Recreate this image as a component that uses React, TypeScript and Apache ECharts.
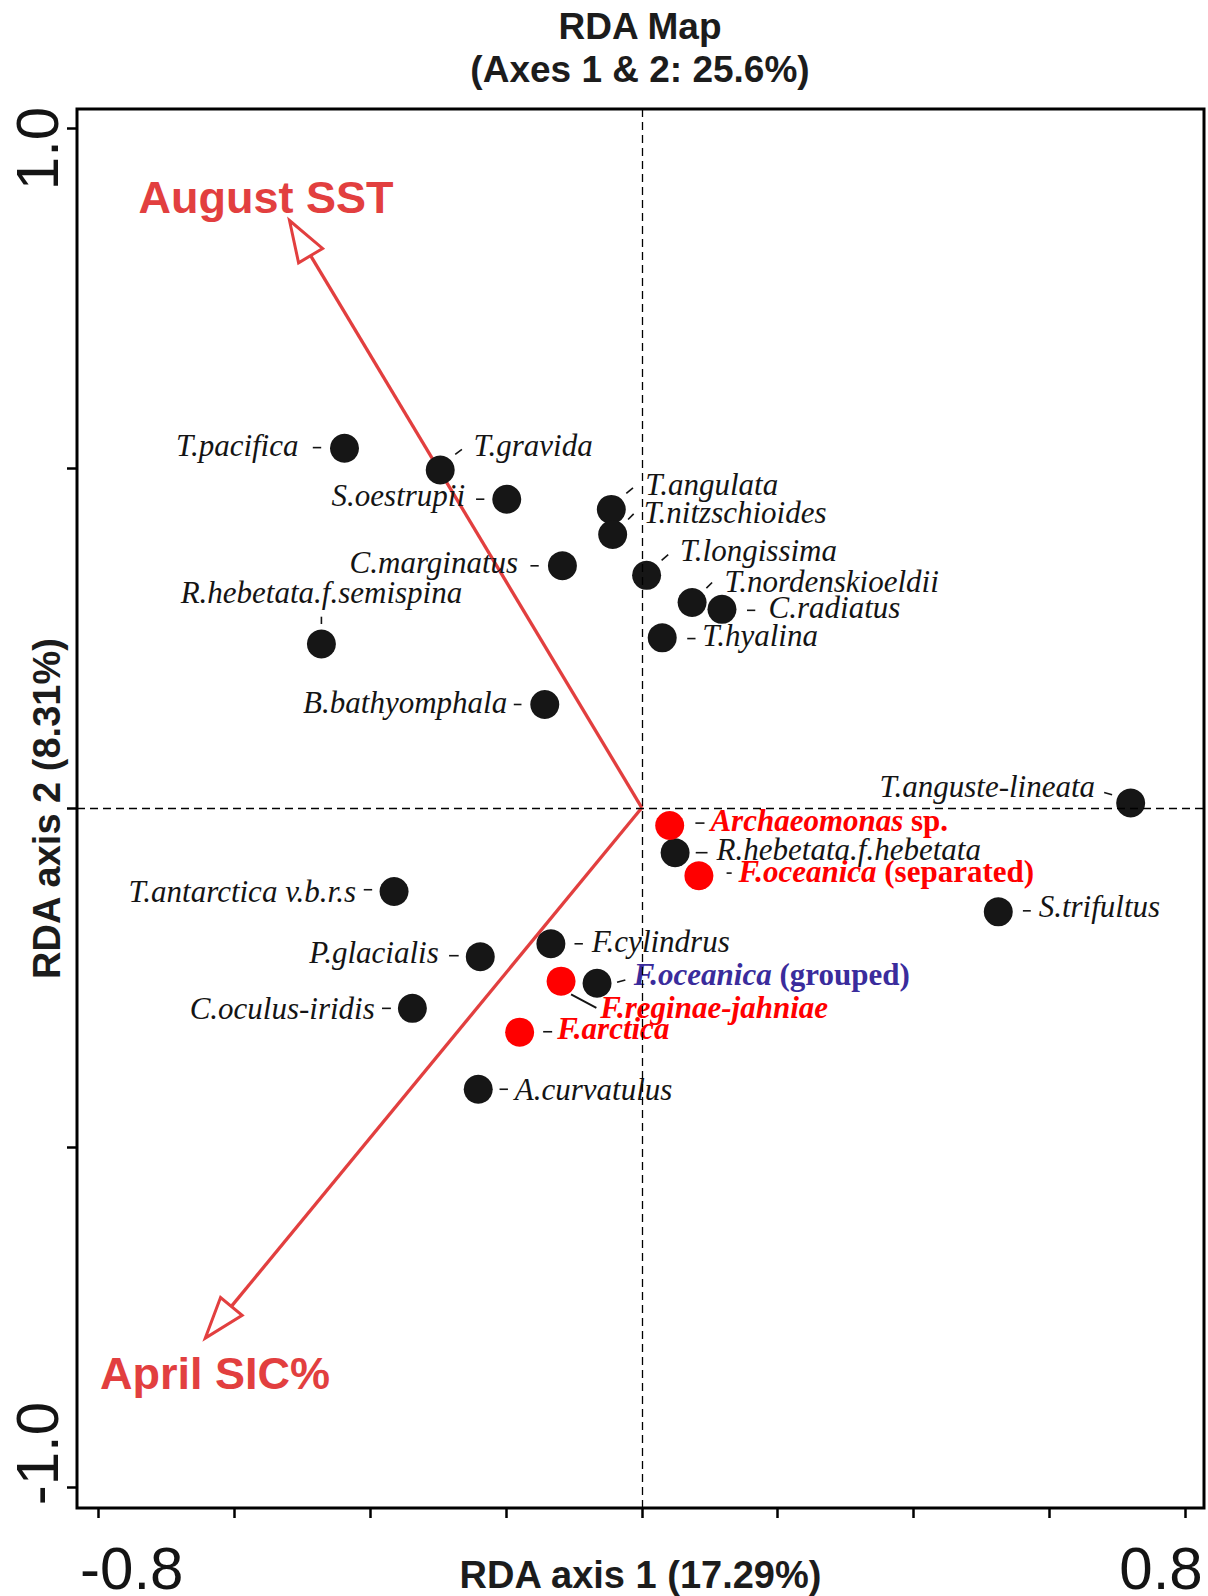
import React, { useEffect, useRef } from "react";
import * as echarts from "echarts";

// Diatom taxa scores on RDA axes 1 and 2
const taxa = [
  "T.pacifica", "T.gravida", "S.oestrupii", "T.angulata", "T.nitzschioides",
  "C.marginatus", "R.hebetata.f.semispina", "B.bathyomphala", "T.longissima",
  "T.nordenskioeldii", "C.radiatus", "T.hyalina", "T.anguste-lineata",
  "R.hebetata.f.hebetata", "S.trifultus", "T.antarctica v.b.r.s", "F.cylindrus",
  "P.glacialis", "C.oculus-iridis", "F.oceanica (grouped)", "A.curvatulus",
];
const taxaAxis1 = [
  -0.438, -0.297, -0.199, -0.045, -0.043, -0.117, -0.472, -0.143, 0.007,
  0.074, 0.118, 0.030, 0.720, 0.049, 0.525, -0.365, -0.134, -0.238, -0.338,
  -0.066, -0.241,
];
const taxaAxis2 = [
  0.529, 0.497, 0.454, 0.439, 0.402, 0.356, 0.241, 0.152, 0.342, 0.302,
  0.292, 0.250, 0.007, -0.066, -0.153, -0.123, -0.200, -0.219, -0.295,
  -0.258, -0.414,
];

// Highlighted taxa (red markers)
const focusTaxa = ["Archaeomonas sp.", "F.oceanica (separated)", "F.reginae-jahniae", "F.arctica"];
const focusAxis1 = [0.041, 0.084, -0.119, -0.180];
const focusAxis2 = [-0.026, -0.100, -0.255, -0.330];

// Environmental variables drawn as biplot arrows
const envVariables = ["August SST", "April SIC%"];
const envAxis1 = [-0.519, -0.643];
const envAxis2 = [0.864, -0.780];

// Axis ticks and labelled ticks
const xTickValues = [-0.8, -0.6, -0.4, -0.2, 0, 0.2, 0.4, 0.6, 0.8];
const xLabelValues = [-0.8, 0.8];
const yTickValues = [-1, -0.5, 0, 0.5, 1];
const yLabelValues = [-1, 1];

const TITLE = "RDA Map\n(Axes 1 & 2: 25.6%)";
const X_NAME = "RDA axis 1 (17.29%)";
const Y_NAME = "RDA axis 2 (8.31%)";

const SANS = "Liberation Sans";
const SERIF = "Liberation Serif";
const INK = "#141414";
const FOCUS_RED = "#ff0000";
const GROUPED_BLUE = "#3a2c9c";
const ARROW_RED = "#e23f3f";

const LABEL_SIZE = 31;
const SERIF_MID = 10.5; // baseline offset of a middle-aligned serif label

// Label placement relative to each marker, in pixels:
// dx = anchor x, dy = baseline y, leader = short connector segment
type Layout = {
  align: "left" | "right" | "center";
  dx: number;
  dy: number;
  leader: [number, number, number, number];
};
const labelLayout: Record<string, Layout> = {
  "T.pacifica": { align: "right", dx: -46, dy: 7.4, leader: [-31.7, -0.6, -23.3, -0.6] },
  "T.gravida": { align: "left", dx: 33.3, dy: -14.3, leader: [15, -15.7, 21.7, -20.7] },
  "S.oestrupii": { align: "right", dx: -41.7, dy: 7, leader: [-30.7, 0, -22.4, 0] },
  "T.angulata": { align: "left", dx: 34, dy: -14.3, leader: [15, -16, 21.7, -21.6] },
  "T.nitzschioides": { align: "left", dx: 31, dy: -11.7, leader: [15.4, -15, 21, -20.7] },
  "C.marginatus": { align: "right", dx: -44.3, dy: 7.6, leader: [-32, 0, -23.7, 0] },
  "R.hebetata.f.semispina": { align: "center", dx: 0, dy: -40.7, leader: [0, -27.3, 0, -20] },
  "B.bathyomphala": { align: "right", dx: -37.6, dy: 8.3, leader: [-31, 0, -23.3, 0] },
  "T.longissima": { align: "left", dx: 33.3, dy: -14, leader: [15, -15, 21.6, -20.7] },
  "T.nordenskioeldii": { align: "left", dx: 32.3, dy: -11, leader: [14.3, -14.4, 20, -20] },
  "C.radiatus": { align: "left", dx: 46.6, dy: 9, leader: [25, 1, 33.3, 1] },
  "T.hyalina": { align: "left", dx: 40, dy: 8.4, leader: [25, 0.7, 33.3, 0.7] },
  "T.anguste-lineata": { align: "right", dx: -35.6, dy: -5.6, leader: [-26.5, -10.6, -18.6, -8.3] },
  "R.hebetata.f.hebetata": { align: "left", dx: 41.5, dy: 7.3, leader: [20.6, 0, 32.4, 0] },
  "S.trifultus": { align: "left", dx: 40.4, dy: 5, leader: [24.6, -1, 32.5, -1] },
  "T.antarctica v.b.r.s": { align: "right", dx: -38, dy: 10.6, leader: [-30.3, -1.7, -21.9, -1.7] },
  "F.cylindrus": { align: "left", dx: 40.8, dy: 8, leader: [23.6, 0, 32, 0] },
  "P.glacialis": { align: "right", dx: -41.5, dy: 6.6, leader: [-31.2, -1, -21.6, -1] },
  "C.oculus-iridis": { align: "right", dx: -37.6, dy: 11, leader: [-30.4, 0, -21.5, 0] },
  "F.oceanica (grouped)": { align: "left", dx: 36.6, dy: 1.7, leader: [20, -1, 28.3, -3.3] },
  "A.curvatulus": { align: "left", dx: 36.6, dy: 10.7, leader: [21.3, 0, 29.7, 0] },
  "Archaeomonas sp.": { align: "left", dx: 40.7, dy: 5.3, leader: [25.7, -2.4, 34.8, -2.4] },
  "F.oceanica (separated)": { align: "left", dx: 39.6, dy: 6.7, leader: [27.7, -2.7, 32.8, -2.7] },
  "F.reginae-jahniae": { align: "left", dx: 39.3, dy: 36.6, leader: [10, 13.3, 35.3, 26.6] },
  "F.arctica": { align: "left", dx: 37.5, dy: 7.3, leader: [23.5, -0.4, 32.5, -0.4] },
};

// Arrow label placement relative to the arrow tip (left edge, baseline)
const envLabelLayout: Record<string, { dx: number; dy: number }> = {
  "August SST": { dx: -151, dy: -7.4 },
  "April SIC%": { dx: -105.3, dy: 51 },
};
const HEAD_LEN = 41;
const HEAD_HALF = 14;
const ENV_FONT = 45;
const SANS_MID_RATIO = 0.3465;

type Kind = "base" | "focus" | "grouped";
const labelEntries: { name: string; x: number; y: number; kind: Kind }[] = [
  ...taxa.map((name, i) => ({
    name,
    x: taxaAxis1[i],
    y: taxaAxis2[i],
    kind: (name.includes("(grouped)") ? "grouped" : "base") as Kind,
  })),
  ...focusTaxa.map((name, i) => ({ name, x: focusAxis1[i], y: focusAxis2[i], kind: "focus" as Kind })),
];

function labelRichText(name: string, kind: Kind): string {
  if (kind === "base") return `{i|${name}}`;
  const m = name.match(/^(.*?)( sp\.| \(.*\))$/);
  if (m) return `{bi|${m[1]}}{b|${m[2]}}`;
  return `{bi|${name}}`;
}

export default function App() {
  const ref = useRef<HTMLDivElement>(null);

  useEffect(() => {
    document.body.style.margin = "0";
    document.body.style.overflow = "hidden";
    if (!ref.current) return;
    const chart = echarts.init(ref.current, undefined, { renderer: "svg" });

    const axisNameStyle = {
      fontFamily: SANS,
      fontSize: 38,
      fontWeight: "bold" as const,
      color: "#1c1c1c",
    };
    const tickFont = { fontFamily: SANS, fontSize: 60, lineHeight: 52, color: INK };

    chart.setOption({
      animation: false,
      backgroundColor: "#ffffff",
      title: {
        text: TITLE,
        left: 640,
        top: 5,
        padding: 0,
        textAlign: "center",
        textStyle: {
          fontFamily: SANS,
          fontSize: 37,
          fontWeight: "bold",
          lineHeight: 43,
          color: "#1c1c1c",
        },
      },
      grid: {
        left: 77,
        right: 4,
        top: 109,
        bottom: 88,
        show: true,
        borderColor: "#000",
        borderWidth: 3,
        backgroundColor: "transparent",
        containLabel: false,
        outerBoundsMode: "none",
      },
      xAxis: {
        type: "value",
        position: "bottom",
        min: -0.832,
        max: 0.828,
        axisLine: { show: false, onZero: false },
        splitLine: { show: false },
        axisTick: {
          show: true,
          customValues: xTickValues,
          length: 10,
          lineStyle: { color: "#000", width: 2.5 },
        },
        axisLabel: {
          show: true,
          customValues: xLabelValues,
          margin: 34,
          ...tickFont,
          formatter: (v: number) => (v < 0 ? `{lo|${v.toFixed(1)}}` : `{hi|${v.toFixed(1)}}`),
          rich: {
            lo: { ...tickFont, padding: [0, 0, 0, 66] },
            hi: { ...tickFont, padding: [0, 48, 0, 0] },
          },
        },
        name: X_NAME,
        nameLocation: "middle",
        nameGap: 48,
        nameMoveOverlap: false,
        nameTextStyle: axisNameStyle,
      },
      yAxis: {
        type: "value",
        position: "left",
        min: -1.03,
        max: 1.028,
        axisLine: { show: false, onZero: false },
        splitLine: { show: false },
        axisTick: {
          show: true,
          customValues: yTickValues,
          length: 10,
          lineStyle: { color: "#000", width: 2.5 },
        },
        axisLabel: {
          show: true,
          customValues: yLabelValues,
          rotate: 90,
          margin: 14,
          ...tickFont,
          formatter: (v: number) => (v < 0 ? `{lo|${v.toFixed(1)}}` : `{hi|${v.toFixed(1)}}`),
          rich: {
            lo: { ...tickFont, padding: [0, 0, 0, 68] },
            hi: { ...tickFont, padding: [0, 41, 0, 0] },
          },
        },
        name: Y_NAME,
        nameLocation: "middle",
        nameRotate: 90,
        nameGap: 11,
        nameMoveOverlap: false,
        nameTextStyle: axisNameStyle,
      },
      series: [
        // Dashed reference lines through the origin
        {
          type: "scatter",
          data: [],
          z: 1,
          silent: true,
          markLine: {
            silent: true,
            symbol: "none",
            label: { show: false },
            lineStyle: { color: "#000", width: 1.3, type: [8, 5] },
            data: [{ xAxis: 0 }, { yAxis: 0 }],
          },
        },
        // Environmental arrows with hollow heads
        {
          type: "custom",
          z: 2,
          silent: true,
          data: envVariables.map((_, i) => [envAxis1[i], envAxis2[i]]),
          renderItem: (params: any, api: any) => {
            const name = envVariables[params.dataIndex];
            const [ox, oy] = api.coord([0, 0]);
            const [tx, ty] = api.coord([api.value(0), api.value(1)]);
            const len = Math.hypot(tx - ox, ty - oy);
            const ux = (tx - ox) / len;
            const uy = (ty - oy) / len;
            const bx = tx - HEAD_LEN * ux;
            const by = ty - HEAD_LEN * uy;
            const px = -uy;
            const py = ux;
            const lab = envLabelLayout[name];
            return {
              type: "group",
              children: [
                {
                  type: "line",
                  shape: { x1: ox, y1: oy, x2: bx, y2: by },
                  style: { stroke: ARROW_RED, lineWidth: 3.3 },
                },
                {
                  type: "polygon",
                  shape: {
                    points: [
                      [tx, ty],
                      [bx + HEAD_HALF * px, by + HEAD_HALF * py],
                      [bx - HEAD_HALF * px, by - HEAD_HALF * py],
                    ],
                  },
                  style: { fill: "#ffffff", stroke: ARROW_RED, lineWidth: 3, lineJoin: "miter" },
                },
                {
                  type: "text",
                  style: {
                    text: name,
                    x: tx + lab.dx,
                    y: ty + lab.dy - ENV_FONT * SANS_MID_RATIO,
                    align: "left",
                    verticalAlign: "middle",
                    fontFamily: SANS,
                    fontSize: ENV_FONT,
                    fontWeight: "bold",
                    fill: ARROW_RED,
                  },
                },
              ],
            };
          },
        },
        // Taxa markers
        {
          type: "scatter",
          z: 3,
          silent: true,
          symbol: "circle",
          symbolSize: 29,
          itemStyle: { color: "#161616", opacity: 1 },
          data: taxa.map((_, i) => [taxaAxis1[i], taxaAxis2[i]]),
        },
        {
          type: "scatter",
          z: 3,
          silent: true,
          symbol: "circle",
          symbolSize: 29,
          itemStyle: { color: FOCUS_RED, opacity: 1 },
          data: focusTaxa.map((_, i) => [focusAxis1[i], focusAxis2[i]]),
        },
        // Taxon labels with leader ticks
        {
          type: "custom",
          z: 4,
          silent: true,
          data: labelEntries.map((e) => [e.x, e.y]),
          renderItem: (params: any, api: any) => {
            const e = labelEntries[params.dataIndex];
            const [cx, cy] = api.coord([api.value(0), api.value(1)]);
            const lay = labelLayout[e.name];
            const color = e.kind === "base" ? INK : e.kind === "focus" ? FOCUS_RED : GROUPED_BLUE;
            const base = { fontFamily: SERIF, fontSize: LABEL_SIZE, fill: color };
            return {
              type: "group",
              children: [
                {
                  type: "line",
                  shape: {
                    x1: cx + lay.leader[0],
                    y1: cy + lay.leader[1],
                    x2: cx + lay.leader[2],
                    y2: cy + lay.leader[3],
                  },
                  style: { stroke: INK, lineWidth: e.name === "F.reginae-jahniae" ? 2 : 1.6 },
                },
                {
                  type: "text",
                  style: {
                    text: labelRichText(e.name, e.kind),
                    x: cx + lay.dx,
                    y: cy + lay.dy - SERIF_MID,
                    align: lay.align,
                    verticalAlign: "middle",
                    ...base,
                    rich: {
                      i: { ...base, fontStyle: "italic" },
                      bi: { ...base, fontStyle: "italic", fontWeight: "bold" },
                      b: { ...base, fontWeight: "bold" },
                    },
                  },
                },
              ],
            };
          },
        },
      ],
    });

    return () => chart.dispose();
  }, []);

  return <div ref={ref} style={{ width: 1208, height: 1596 }} />;
}
